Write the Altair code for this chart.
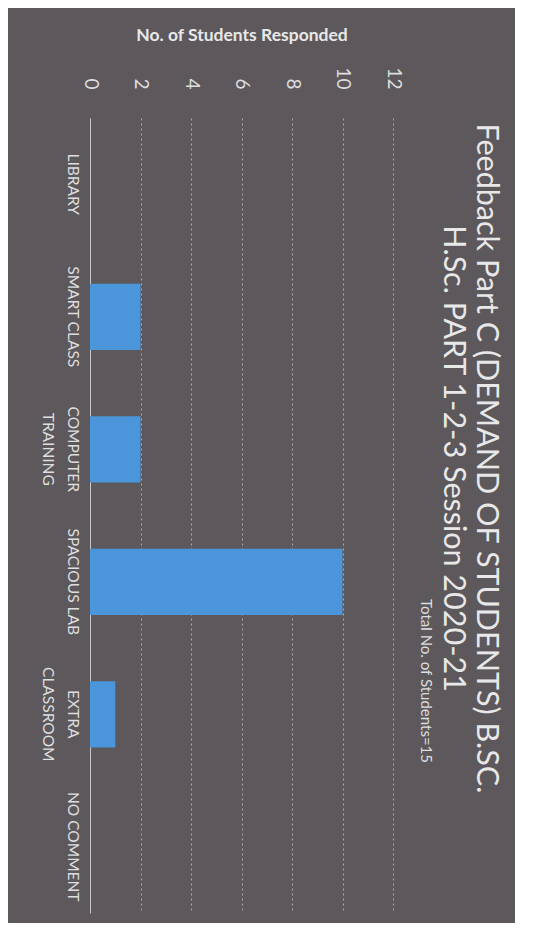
import altair as alt
import pandas as pd

categories = ["LIBRARY", "SMART CLASS", "COMPUTER TRAINING", "SPACIOUS LAB",
              "EXTRA CLASSROOM", "NO COMMENT"]
responses = [0, 2, 2, 10, 1, 0]
value_ticks = [0, 2, 4, 6, 8, 10, 12]
title_lines = ["Feedback Part C (DEMAND OF STUDENTS) B.SC.",
               "H.Sc. PART 1-2-3 Session 2020-21"]
subtitle = ["Total No. of Students=15"]
axis_title = "No. of Students Responded"

df = pd.DataFrame({"category": categories, "responses": responses})
sub_df = pd.DataFrame({"t": subtitle})

FONT = "Lato"
TXT = "#dedede"

label_expr = ("datum.label == 'COMPUTER TRAINING' ? ['COMPUTER', 'TRAINING'] : "
              "datum.label == 'EXTRA CLASSROOM' ? ['EXTRA', 'CLASSROOM'] : datum.label")

bars = alt.Chart(df).mark_bar(color="#4b96da").encode(
    x=alt.X("responses:Q",
            scale=alt.Scale(domain=[0, 12], nice=False),
            axis=alt.Axis(orient="top", values=value_ticks, labelAngle=90,
                          labelAlign="right", labelBaseline="middle",
                          labelPadding=29, labelFontSize=19, labelFont=FONT,
                          labelColor=TXT, ticks=False, domain=False, grid=True,
                          gridColor="#b8b8b8", gridDash=[2, 3], gridOpacity=0.85,
                          title=axis_title, titleFontSize=17.5, titleFont=FONT,
                          titleFontWeight="bold", titleColor="#e8e8e8",
                          titlePadding=22)),
    y=alt.Y("category:N", sort=categories,
            scale=alt.Scale(paddingInner=0.5, paddingOuter=0.25),
            axis=alt.Axis(orient="left", title=None, labelAngle=90,
                          labelAlign="center", labelBaseline="top",
                          labelExpr=label_expr, labelPadding=11,
                          labelFontSize=15.5, labelFont=FONT, labelLineHeight=25,
                          labelColor=TXT, labelOverlap=False, ticks=False,
                          domain=True, domainColor="#c8c8c8", grid=False)),
)

sub = alt.Chart(sub_df).mark_text(angle=90, align="center", baseline="middle",
                                  fontSize=15, font=FONT, color=TXT).encode(
    text="t:N", x=alt.value(336), y=alt.value(563))

chart = alt.layer(bars, sub).properties(
    width=303, height=795,
    title=alt.TitleParams(title_lines, orient="right", anchor="middle",
                          fontSize=30.5, font=FONT, fontWeight="normal",
                          color="#e8e8e8", lineHeight=33, dx=-57),
    padding={"left": 82, "top": 110, "right": 122, "bottom": 10},
    autosize="none",
    background="#5c585c",
).configure_view(stroke=None)

chart.save("out.html", embed_options={"renderer": "svg", "actions": False})
